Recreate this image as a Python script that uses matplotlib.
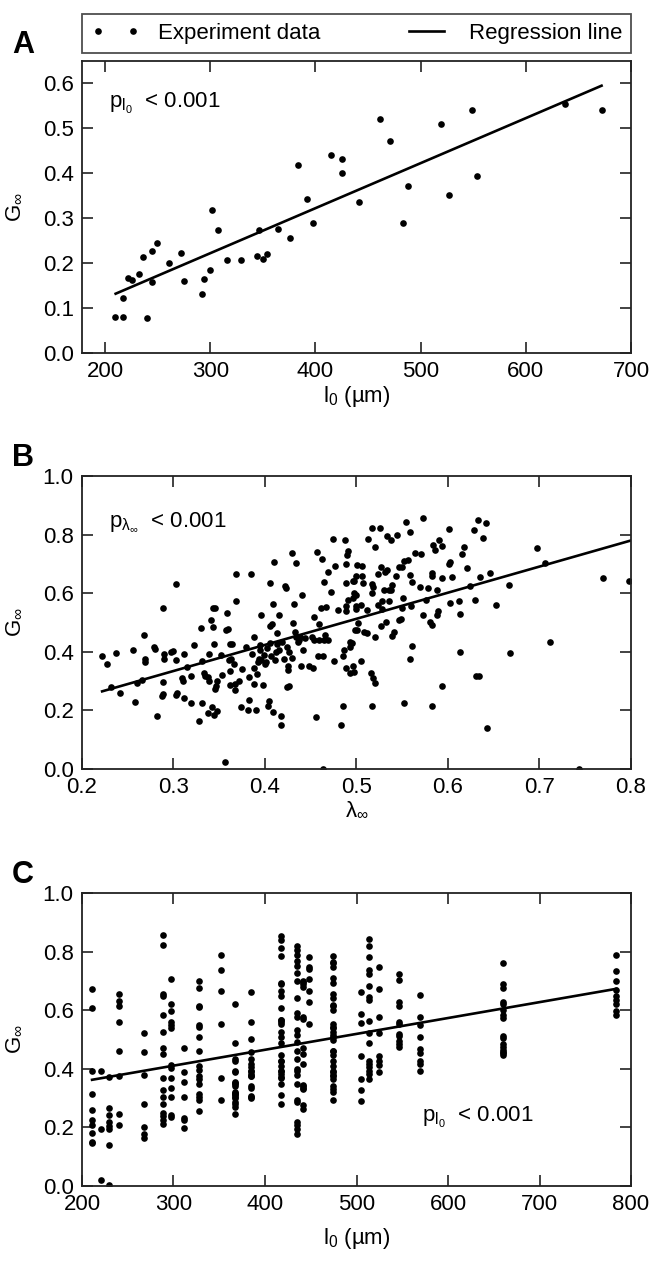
import matplotlib
matplotlib.use("Agg")
import matplotlib.pyplot as plt
from matplotlib.lines import Line2D

plt.rcParams['font.family'] = ['Liberation Sans', 'DejaVu Sans']
plt.rcParams['mathtext.fontset'] = 'custom'
plt.rcParams['mathtext.rm'] = 'Liberation Sans'
plt.rcParams['mathtext.it'] = 'Liberation Sans'
plt.rcParams['mathtext.default'] = 'regular'

# ---------------- Panel A data ----------------
a_x = [209, 217, 240, 217, 222, 226, 232, 236, 245, 245, 249, 261, 272, 275, 292, 294, 300,
       302, 307, 316, 329, 344, 346, 350, 354, 364, 376, 383, 392, 398, 415, 425, 425, 441,
       461, 471, 483, 488, 519, 527, 549, 554, 637, 672]
a_y = [0.080, 0.080, 0.077, 0.123, 0.167, 0.163, 0.176, 0.213, 0.159, 0.226, 0.245, 0.200,
       0.223, 0.160, 0.132, 0.164, 0.185, 0.319, 0.273, 0.208, 0.207, 0.216, 0.274, 0.210,
       0.221, 0.276, 0.256, 0.419, 0.342, 0.290, 0.441, 0.432, 0.400, 0.337, 0.521, 0.471,
       0.289, 0.371, 0.510, 0.352, 0.542, 0.394, 0.554, 0.542]
a_reg_x = [210, 672]
a_reg_y = [0.132, 0.595]

# ---------------- Panel B data ----------------
b_x = [0.222, 0.227, 0.237, 0.232, 0.242, 0.256, 0.258, 0.260, 0.266, 0.268, 0.269, 0.269,
       0.279, 0.280, 0.282, 0.288, 0.288, 0.287, 0.289, 0.290, 0.290, 0.297, 0.299, 0.303,
       0.303, 0.303, 0.304, 0.311, 0.310, 0.311, 0.309, 0.315, 0.319, 0.319, 0.322, 0.328,
       0.330, 0.331, 0.331, 0.333, 0.334, 0.338, 0.338, 0.339, 0.339, 0.341, 0.343, 0.345,
       0.343, 0.342, 0.344, 0.344, 0.345, 0.348, 0.346, 0.347, 0.352, 0.353, 0.356, 0.358,
       0.357, 0.360, 0.362, 0.362, 0.362, 0.361, 0.363, 0.366, 0.367, 0.368, 0.368, 0.367,
       0.364, 0.372, 0.374, 0.375, 0.379, 0.382, 0.381, 0.383, 0.385, 0.388, 0.386, 0.388,
       0.388, 0.390, 0.391, 0.393, 0.392, 0.394, 0.395, 0.396, 0.396, 0.398, 0.399, 0.401,
       0.400, 0.402, 0.403, 0.404, 0.405, 0.405, 0.406, 0.407, 0.408, 0.409, 0.410, 0.411,
       0.409, 0.412, 0.413, 0.413, 0.415, 0.415, 0.417, 0.417, 0.419, 0.421, 0.422, 0.423,
       0.424, 0.425, 0.425, 0.424, 0.426, 0.426, 0.429, 0.430, 0.431, 0.432, 0.433, 0.434,
       0.434, 0.436, 0.437, 0.438, 0.439, 0.440, 0.441, 0.444, 0.448, 0.451, 0.453, 0.454,
       0.454, 0.456, 0.457, 0.458, 0.459, 0.459, 0.461, 0.462, 0.463, 0.463, 0.464, 0.464,
       0.466, 0.469, 0.467, 0.469, 0.472, 0.474, 0.475, 0.477, 0.480, 0.483, 0.485, 0.485,
       0.486, 0.487, 0.488, 0.489, 0.488, 0.490, 0.491, 0.488, 0.489, 0.493, 0.491, 0.493,
       0.493, 0.496, 0.496, 0.498, 0.497,
       0.495, 0.497, 0.505, 0.496, 0.502, 0.501, 0.500, 0.499, 0.499, 0.497, 0.500, 0.506,
       0.507, 0.506, 0.501, 0.505, 0.508, 0.511, 0.511, 0.513, 0.517, 0.517, 0.517, 0.518,
       0.516, 0.518, 0.520, 0.517, 0.520, 0.520, 0.523, 0.524, 0.526, 0.527, 0.528, 0.527,
       0.528, 0.530, 0.531, 0.532, 0.533, 0.533, 0.535, 0.536, 0.538, 0.538, 0.539, 0.539,
       0.541, 0.543, 0.544, 0.546, 0.546, 0.549, 0.550, 0.550, 0.551, 0.552, 0.552, 0.554,
       0.556, 0.558, 0.559, 0.560, 0.561, 0.561, 0.558, 0.564, 0.570, 0.569, 0.573, 0.573,
       0.576, 0.578, 0.580, 0.582, 0.582, 0.583, 0.583, 0.584, 0.586, 0.588, 0.588, 0.589,
       0.590, 0.593, 0.593, 0.593, 0.601, 0.601, 0.602, 0.602, 0.604, 0.613, 0.612, 0.613,
       0.615, 0.618, 0.621, 0.624, 0.628, 0.629, 0.631, 0.634, 0.633, 0.635, 0.638, 0.641,
       0.643, 0.646, 0.652, 0.667, 0.668, 0.697, 0.706, 0.712, 0.743, 0.769, 0.798]
b_y = [0.387, 0.360, 0.395, 0.280, 0.259, 0.407, 0.230, 0.293, 0.305, 0.457, 0.375, 0.366,
       0.417, 0.409, 0.180, 0.551, 0.297, 0.248, 0.256, 0.392, 0.375, 0.400, 0.403, 0.631,
       0.373, 0.252, 0.261, 0.244, 0.301, 0.391, 0.309, 0.348, 0.318, 0.225, 0.424, 0.163,
       0.481, 0.224, 0.369, 0.326, 0.318, 0.313, 0.191, 0.392, 0.300, 0.509, 0.549, 0.551,
       0.483, 0.211, 0.183, 0.427, 0.274, 0.198, 0.284, 0.301, 0.390, 0.320, 0.023, 0.534,
       0.475, 0.478, 0.425, 0.336, 0.286, 0.373, 0.375, 0.357, 0.268, 0.575, 0.665, 0.289,
       0.425, 0.299, 0.211, 0.341, 0.416, 0.234, 0.203, 0.313, 0.665, 0.289, 0.391, 0.452,
       0.344, 0.202, 0.325, 0.375, 0.364, 0.422, 0.405, 0.524, 0.373, 0.285, 0.389, 0.365,
       0.357, 0.413, 0.214, 0.231, 0.489, 0.430, 0.635, 0.386, 0.495, 0.193, 0.705, 0.373,
       0.563, 0.400, 0.426, 0.464, 0.524, 0.407, 0.180, 0.149, 0.433, 0.375, 0.625, 0.617,
       0.418, 0.350, 0.338, 0.280, 0.282, 0.400, 0.378, 0.736, 0.498, 0.563, 0.466, 0.702,
       0.452, 0.435, 0.441, 0.452, 0.352, 0.593, 0.407, 0.447, 0.353, 0.450, 0.344, 0.441,
       0.520, 0.177, 0.741, 0.385, 0.495, 0.441, 0.550, 0.718, 0.000, 0.384, 0.639, 0.441,
       0.458, 0.441, 0.552, 0.673, 0.605, 0.785, 0.368, 0.693, 0.542, 0.151, 0.216, 0.384,
       0.407, 0.780, 0.540, 0.634, 0.698, 0.732, 0.745, 0.555, 0.344, 0.327, 0.577, 0.415,
       0.432, 0.582, 0.640, 0.475, 0.600,
       0.430, 0.332, 0.370, 0.350, 0.498, 0.473, 0.545, 0.555, 0.594, 0.643, 0.657, 0.659,
       0.634, 0.693, 0.695, 0.560, 0.467, 0.464, 0.543, 0.785, 0.822, 0.631, 0.600, 0.620,
       0.327, 0.310, 0.293, 0.214, 0.757, 0.450, 0.665, 0.560, 0.822, 0.691, 0.574, 0.489,
       0.547, 0.611, 0.674, 0.501, 0.794, 0.680, 0.572, 0.611, 0.782, 0.611, 0.628, 0.455,
       0.468, 0.659, 0.799, 0.691, 0.507, 0.511, 0.691, 0.551, 0.583, 0.710, 0.225, 0.843,
       0.713, 0.663, 0.809, 0.555, 0.639, 0.419, 0.377, 0.736, 0.733, 0.620, 0.855, 0.526,
       0.577, 0.618, 0.503, 0.657, 0.670, 0.491, 0.216, 0.763, 0.748, 0.611, 0.526, 0.539,
       0.782, 0.761, 0.653, 0.282, 0.818, 0.699, 0.708, 0.566, 0.656, 0.528, 0.572, 0.400,
       0.734, 0.757, 0.686, 0.623, 0.816, 0.577, 0.316, 0.316, 0.850, 0.656, 0.788, 0.841,
       0.140, 0.670, 0.560, 0.627, 0.395, 0.753, 0.702, 0.434, 0.000, 0.652, 0.643]
b_reg_x = [0.222, 0.800]
b_reg_y = [0.265, 0.780]

# ---------------- Panel C data (columns of equal l0) ----------------
c_col_x = [211, 221, 230, 240, 268, 289, 297, 312, 328, 352, 367, 385,
           417, 435, 441, 448, 474, 505, 514, 525, 546, 569, 660, 784]
c_col_y = [
    [0.672, 0.609, 0.394, 0.313, 0.259, 0.225, 0.207, 0.181, 0.150, 0.147],
    [0.392, 0.193, 0.022],
    [0.372, 0.265, 0.242, 0.219, 0.205, 0.194, 0.140, 0.002],
    [0.656, 0.630, 0.615, 0.559, 0.460, 0.376, 0.245, 0.208],
    [0.522, 0.456, 0.380, 0.281, 0.201, 0.178, 0.164],
    [0.855, 0.822, 0.656, 0.647, 0.585, 0.524, 0.472, 0.449, 0.369, 0.326, 0.303, 0.281,
     0.249, 0.238, 0.226, 0.213],
    [0.706, 0.622, 0.597, 0.403, 0.303, 0.243, 0.235, 0.561, 0.551, 0.540, 0.414, 0.370,
     0.336],
    [0.472, 0.389, 0.356, 0.303, 0.233, 0.224, 0.199],
    [0.698, 0.675, 0.616, 0.610, 0.551, 0.544, 0.508, 0.460, 0.408, 0.395, 0.374, 0.364,
     0.349, 0.315, 0.305, 0.292, 0.256],
    [0.789, 0.738, 0.664, 0.552, 0.369, 0.294],
    [0.432, 0.394, 0.356, 0.318, 0.310, 0.285, 0.622, 0.488, 0.390, 0.343, 0.303, 0.281,
     0.426, 0.352, 0.320, 0.300, 0.269, 0.247, 0.349, 0.315],
    [0.661, 0.559, 0.458, 0.415, 0.394, 0.308, 0.300, 0.406, 0.391, 0.377, 0.303, 0.503,
     0.432, 0.374, 0.343, 0.335, 0.383],
    [0.852, 0.813, 0.840, 0.784, 0.694, 0.688, 0.667, 0.647, 0.567, 0.559, 0.565, 0.552,
     0.607, 0.525, 0.508, 0.489, 0.447, 0.425, 0.428, 0.411, 0.394, 0.383, 0.372, 0.394,
     0.349, 0.309, 0.281, 0.369],
    [0.819, 0.806, 0.790, 0.769, 0.750, 0.726, 0.701, 0.640, 0.592, 0.576, 0.531, 0.517,
     0.491, 0.460, 0.433, 0.400, 0.394, 0.380, 0.347, 0.294, 0.286, 0.220, 0.208, 0.194,
     0.178],
    [0.695, 0.570, 0.451, 0.343, 0.277, 0.264, 0.701, 0.690, 0.470, 0.417, 0.345, 0.332,
     0.576, 0.678, 0.334],
    [0.783, 0.747, 0.742, 0.707, 0.664, 0.628, 0.553],
    [0.785, 0.766, 0.760, 0.747, 0.709, 0.694, 0.642, 0.617, 0.614, 0.656, 0.553, 0.540,
     0.525, 0.542, 0.510, 0.497, 0.462, 0.448, 0.428, 0.408, 0.392, 0.378, 0.365, 0.343,
     0.332, 0.320, 0.295, 0.462, 0.389, 0.376, 0.514, 0.599],
    [0.661, 0.588, 0.556, 0.442, 0.364, 0.328, 0.290],
    [0.843, 0.820, 0.783, 0.738, 0.724, 0.682, 0.635, 0.645, 0.563, 0.522, 0.488, 0.428,
     0.415, 0.406, 0.394, 0.383, 0.366],
    [0.748, 0.674, 0.576, 0.522, 0.445, 0.428, 0.414, 0.388],
    [0.725, 0.702, 0.627, 0.615, 0.560, 0.552, 0.520, 0.511, 0.495, 0.484, 0.473],
    [0.652, 0.578, 0.548, 0.509, 0.467, 0.455, 0.428, 0.417, 0.394],
    [0.761, 0.690, 0.675, 0.622, 0.627, 0.599, 0.575, 0.584, 0.511, 0.506, 0.486, 0.475,
     0.463, 0.455, 0.447, 0.458],
    [0.789, 0.733, 0.701, 0.670, 0.648, 0.636, 0.622, 0.597, 0.585],
]
c_reg_x = [211, 784]
c_reg_y = [0.3625, 0.673]

# ---------------- Figure ----------------
W, H = 652, 1261
fig = plt.figure(figsize=(W / 100, H / 100), dpi=100)

def ax_at(left, top, right, bottom):
    return fig.add_axes([left / W, 1 - bottom / H, (right - left) / W, (bottom - top) / H])

R = 631
axA = ax_at(82, 61, R, 353)
axB = ax_at(82, 476, R, 769)
axC = ax_at(82, 893, R, 1186)

FS = 16
MS = 4.8
LW = 1.9

def style(ax):
    ax.tick_params(direction='in', length=8, width=1.2, top=True, right=True,
                   labelsize=FS, pad=6, color='#222222')
    for s in ax.spines.values():
        s.set_linewidth(1.3)
        s.set_color('#222222')

# Panel A
axA.plot(a_x, a_y, 'o', color='black', ms=MS, mew=0)
axA.plot(a_reg_x, a_reg_y, '-', color='black', lw=LW)
axA.set_xlim(178, 700)
axA.set_ylim(0, 0.65)
axA.set_xticks([200, 300, 400, 500, 600, 700])
axA.set_yticks([0.0, 0.1, 0.2, 0.3, 0.4, 0.5, 0.6])
axA.set_yticklabels(['0.0', '0.1', '0.2', '0.3', '0.4', '0.5', '0.6'])
style(axA)
axA.set_xlabel(r'l$_0$ (µm)', fontsize=FS, labelpad=1)
axA.set_ylabel(r'G$_\infty$', fontsize=FS)
axA.text(0.05, 0.84, r'p$_{l_0}$  < 0.001', transform=axA.transAxes, fontsize=FS)

# Panel B
axB.plot(b_x, b_y, 'o', color='black', ms=MS, mew=0)
axB.plot(b_reg_x, b_reg_y, '-', color='black', lw=LW)
axB.set_xlim(0.2, 0.8)
axB.set_ylim(0, 1.0)
axB.set_xticks([0.2, 0.3, 0.4, 0.5, 0.6, 0.7, 0.8])
axB.set_yticks([0.0, 0.2, 0.4, 0.6, 0.8, 1.0])
axB.set_xticklabels(['0.2', '0.3', '0.4', '0.5', '0.6', '0.7', '0.8'])
axB.set_yticklabels(['0.0', '0.2', '0.4', '0.6', '0.8', '1.0'])
style(axB)
axB.set_xlabel(r'$\lambda_\infty$', fontsize=FS, labelpad=1)
axB.set_ylabel(r'G$_\infty$', fontsize=FS)
axB.text(0.05, 0.83, r'p$_{\lambda_\infty}$  < 0.001', transform=axB.transAxes, fontsize=FS)

# Panel C
for cx, cys in zip(c_col_x, c_col_y):
    axC.plot([cx] * len(cys), cys, 'o', color='black', ms=MS, mew=0)
axC.plot(c_reg_x, c_reg_y, '-', color='black', lw=LW)
axC.set_xlim(200, 800)
axC.set_ylim(0, 1.0)
axC.set_xticks([200, 300, 400, 500, 600, 700, 800])
axC.set_yticks([0.0, 0.2, 0.4, 0.6, 0.8, 1.0])
axC.set_yticklabels(['0.0', '0.2', '0.4', '0.6', '0.8', '1.0'])
style(axC)
axC.set_xlabel(r'l$_0$ (µm)', fontsize=FS, labelpad=8)
axC.set_ylabel(r'G$_\infty$', fontsize=FS)
axC.text(0.62, 0.22, r'p$_{l_0}$  < 0.001', transform=axC.transAxes, fontsize=FS)

for ax in (axA, axB, axC):
    ax.yaxis.set_label_coords(-0.105, 0.5)

# Panel letters
fig.text(12 / W, 1 - 45 / H, 'A', fontsize=22, fontweight='bold', va='center')
fig.text(12 / W, 1 - 458 / H, 'B', fontsize=22, fontweight='bold', va='center')
fig.text(12 / W, 1 - 875 / H, 'C', fontsize=22, fontweight='bold', va='center')

# Legend
handles = [Line2D([], [], marker='o', ls='none', color='black', ms=MS, mew=0),
           Line2D([], [], ls='-', color='black', lw=LW)]
leg = fig.legend(handles, ['Experiment data', 'Regression line'], ncol=2,
                 loc='lower left', bbox_to_anchor=(82 / W, 1 - 53 / H, (R - 82) / W, 50 / H),
                 mode='expand', fontsize=FS, frameon=True, fancybox=False,
                 numpoints=2, handlelength=2.2, borderaxespad=0, borderpad=0.4)
leg.get_frame().set_edgecolor('#222222')
leg.get_frame().set_linewidth(1.3)

fig.savefig('out.png', dpi=100)
